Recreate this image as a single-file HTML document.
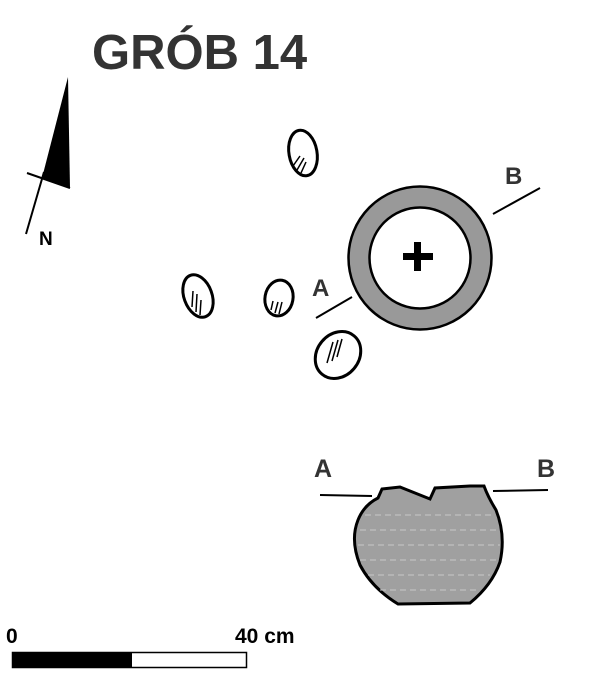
<!DOCTYPE html>
<html><head><meta charset="utf-8"><style>html,body{margin:0;padding:0;background:#fff}svg{display:block}</style></head>
<body>
<svg width="600" height="699" viewBox="0 0 600 699" xmlns="http://www.w3.org/2000/svg" font-family="Liberation Sans, sans-serif" font-weight="bold">
<text x="92" y="69" font-size="49" fill="#333">GRÓB 14</text>
<polygon points="68,77 70,188 42,178" fill="#000"/>
<line x1="27" y1="173" x2="70" y2="188" stroke="#000" stroke-width="2"/>
<line x1="26" y1="234" x2="44" y2="172" stroke="#000" stroke-width="2"/>
<text x="39" y="245" font-size="19" fill="#000">N</text>
<g fill="none" stroke="#000" stroke-width="3">
<ellipse cx="303" cy="153" rx="14" ry="23" transform="rotate(-10 303 153)"/>
<ellipse cx="198" cy="296" rx="14" ry="22" transform="rotate(-20 198 296)"/>
<ellipse cx="279" cy="298" rx="14" ry="18" transform="rotate(10 279 298)"/>
<ellipse cx="338" cy="355" rx="21" ry="25" transform="rotate(40 338 355)"/>
</g>
<g stroke="#000" stroke-width="1.5">
<line x1="293" y1="166" x2="300" y2="156"/><line x1="297" y1="170" x2="304" y2="158"/><line x1="301" y1="173" x2="306" y2="162"/>
<line x1="192" y1="307" x2="193" y2="291"/><line x1="196" y1="312" x2="197" y2="294"/><line x1="200" y1="315" x2="201" y2="300"/>
<line x1="271" y1="310" x2="273" y2="301"/><line x1="275" y1="313" x2="278" y2="302"/><line x1="279" y1="314" x2="282" y2="302"/>
<line x1="327" y1="363" x2="333" y2="342"/><line x1="332" y1="361" x2="338" y2="340"/><line x1="337" y1="357" x2="342" y2="339"/>
</g>
<circle cx="420" cy="258" r="61" fill="none" stroke="#999" stroke-width="21"/>
<circle cx="420" cy="258" r="71.5" fill="none" stroke="#000" stroke-width="2.5"/>
<circle cx="420" cy="258" r="50.5" fill="none" stroke="#000" stroke-width="2.5"/>
<rect x="403" y="253" width="30" height="7" fill="#000"/>
<rect x="414" y="242" width="7" height="29" fill="#000"/>
<line x1="316" y1="318" x2="352" y2="297" stroke="#000" stroke-width="2"/>
<line x1="493" y1="214" x2="540" y2="188" stroke="#000" stroke-width="2"/>
<text x="312" y="296" font-size="24" fill="#333">A</text>
<text x="505" y="184" font-size="24" fill="#333">B</text>
<line x1="320" y1="495" x2="372" y2="496" stroke="#000" stroke-width="2"/>
<line x1="493" y1="491" x2="548" y2="490" stroke="#000" stroke-width="2"/>
<text x="314" y="477" font-size="25" fill="#333">A</text>
<text x="537" y="477" font-size="25" fill="#333">B</text>
<path d="M382,489 L400,487 L430,499 L435,488 L470,486 L484,486 Q488,497 496,510 Q506,535 500,562 Q492,585 470,603 L398,604 Q372,588 360,565 Q350,540 358,520 Q364,505 378,498 Z" fill="#a0a0a0" stroke="#000" stroke-width="3"/>
<g stroke="#c8c8c8" stroke-width="1" stroke-dasharray="6 4">
<line x1="365" y1="515" x2="495" y2="515"/><line x1="360" y1="530" x2="500" y2="530"/><line x1="358" y1="545" x2="500" y2="545"/><line x1="360" y1="560" x2="498" y2="560"/><line x1="368" y1="575" x2="490" y2="575"/><line x1="380" y1="590" x2="478" y2="590"/>
</g>
<text x="6" y="643" font-size="21" fill="#000">0</text>
<text x="235" y="643" font-size="21" fill="#000">40 cm</text>
<rect x="12.5" y="652.5" width="234" height="15" fill="#fff" stroke="#000" stroke-width="1.5"/>
<rect x="12" y="652" width="120" height="16" fill="#000"/>
</svg>
</body></html>
